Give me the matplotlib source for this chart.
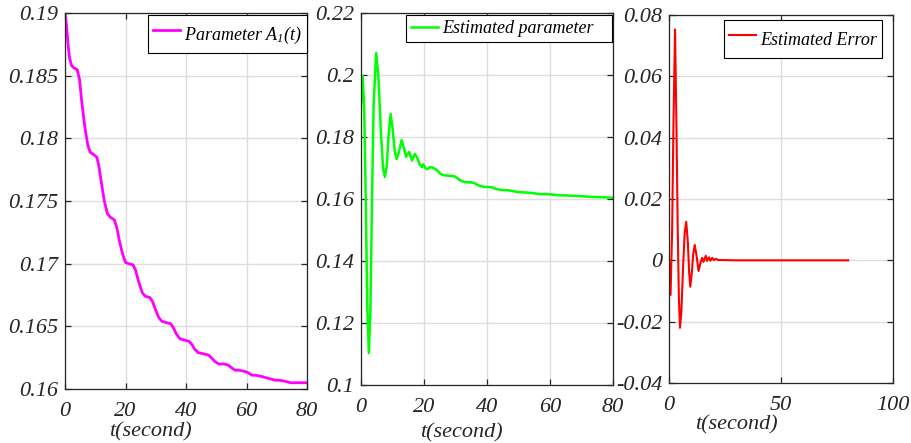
import matplotlib
matplotlib.use("Agg")
import matplotlib.pyplot as plt
from matplotlib.font_manager import FontProperties

# ---- data -------------------------------------------------------------
t_true = [0, 0.5, 1, 1.5, 2.2, 3, 4, 4.8, 5.5, 6.5, 7.5, 8.3, 9.5, 10.5, 11.2, 12, 13, 14,
          15, 16.3, 17.2, 18, 19, 20, 21, 22.5, 23.3, 24.3, 25.5, 26.5, 28, 28.9, 29.8, 31,
          32, 33.5, 35, 35.8, 36.8, 38, 39.5, 41, 41.8, 42.8, 44, 46, 47.5, 48.4, 49.5, 50.8,
          52.5, 54, 55, 56.2, 57.5, 59.5, 60.5, 61.8, 63, 65, 66.5, 68, 69.5, 71, 73, 74.5,
          76, 78, 80]
a_true = [0.1900, 0.1890, 0.1875, 0.1864, 0.1858, 0.1856, 0.1855, 0.1847, 0.1830, 0.1810,
          0.1795, 0.1789, 0.1787, 0.1785, 0.1778, 0.1765, 0.1750, 0.1740, 0.1737, 0.1735,
          0.1728, 0.1718, 0.1708, 0.1701, 0.1700, 0.1699, 0.1695, 0.1686, 0.1677, 0.1674,
          0.1673, 0.1670, 0.1664, 0.1657, 0.1654, 0.1653, 0.1652, 0.1649, 0.1644, 0.1640,
          0.1639, 0.1638, 0.1636, 0.1632, 0.1629, 0.1628, 0.1627, 0.1625, 0.1622, 0.1620,
          0.1620, 0.1619, 0.1617, 0.1615, 0.1615, 0.1614, 0.1613, 0.1611, 0.1611, 0.1610,
          0.1609, 0.1608, 0.1607, 0.1607, 0.1606, 0.1605, 0.1605, 0.1605, 0.1605]

t_est = [0, 0.5, 1.0, 1.5, 2.0, 2.5, 3.0, 3.5, 4.0, 4.8, 5.5, 6.3, 7.0, 7.6, 8.2, 8.8, 9.4,
         10.0, 10.7, 11.3, 12.0, 12.9, 13.6, 14.3, 15.3, 16.2, 17.1, 18.0, 18.6, 19.3, 19.8,
         20.4, 21.0, 22.0, 23.0, 24.0, 25.0, 26.0, 28.0, 29.5, 30.5, 31.5, 33.0, 35.0, 36.0,
         37.5, 39.0, 41.5, 43.0, 44.5, 47.0, 48.5, 50.0, 52.5, 54.5, 56.5, 59, 61, 63, 66,
         68, 70, 73, 76, 78, 80]
a_est = [0.190, 0.1997, 0.190, 0.160, 0.125, 0.1103, 0.125, 0.160, 0.190, 0.2071, 0.200,
         0.182, 0.170, 0.1671, 0.171, 0.181, 0.1874, 0.183, 0.1755, 0.1729, 0.175, 0.1790,
         0.1765, 0.1736, 0.1752, 0.1724, 0.1745, 0.1730, 0.1712, 0.1703, 0.1712, 0.1700,
         0.1696, 0.1703, 0.1700, 0.1694, 0.1683, 0.1677, 0.1675, 0.1674, 0.1668, 0.1660,
         0.1654, 0.1654, 0.1651, 0.1643, 0.1639, 0.1638, 0.1632, 0.1629, 0.1628, 0.1625,
         0.1622, 0.1621, 0.1619, 0.1616, 0.1616, 0.1614, 0.1612, 0.1611, 0.1610, 0.1609,
         0.1607, 0.1606, 0.1605, 0.1604]

t_err = [0, 0.7, 1.4, 2.0, 2.7, 3.3, 3.9, 4.4, 4.9, 5.5, 6.3, 7.0, 7.7, 8.4, 9.0, 9.5, 10.2,
         10.8, 11.5, 12.2, 13.2, 14.0, 14.8, 15.4, 16.4, 17.0, 17.8, 18.5, 19.3, 20.0, 21.0,
         22.0, 24, 30, 40, 50, 60, 70, 80]
e_err = [0.0, -0.0113, 0.010, 0.045, 0.0753, 0.045, 0.010, -0.012, -0.0220, -0.017, -0.002,
         0.009, 0.0126, 0.006, -0.004, -0.0086, -0.004, 0.002, 0.0050, 0.002, -0.0035,
         -0.001, 0.0008, -0.0005, 0.0015, -0.0002, 0.0010, -0.0001, 0.0008, 0.0001, 0.0005,
         0.0001, 0.0001, 0.0, 0.0, 0.0, 0.0, 0.0, 0.0]

yt1 = [0.16, 0.165, 0.17, 0.175, 0.18, 0.185, 0.19]
yt2 = [0.1, 0.12, 0.14, 0.16, 0.18, 0.2, 0.22]
yt3 = [-0.04, -0.02, 0, 0.02, 0.04, 0.06, 0.08]
xt12 = [0, 20, 40, 60, 80]
xt3 = [0, 50, 100]

# ---- style ------------------------------------------------------------
plt.rcParams.update({
    "font.family": "Liberation Serif",
    "font.style": "italic",
    "mathtext.fontset": "custom",
    "mathtext.rm": "Liberation Serif:italic",
    "mathtext.it": "Liberation Serif:italic",
    "axes.unicode_minus": False,
})
TXT = "#262626"
GRID = "#dedede"
TICK_FONT = FontProperties(family="Liberation Serif", style="italic", size=16)
LEG_FONT = FontProperties(family="Liberation Serif", style="italic", size=13)

fig = plt.figure(figsize=(9.12, 4.43), dpi=100)
W, H = 912, 443


def add_ax(l, r, top, bot):
    return fig.add_axes([l / W, (H - bot) / H, (r - l) / W, (bot - top) / H])


ax1 = add_ax(65, 307, 13, 389)
ax2 = add_ax(361, 613, 13, 385)
ax3 = add_ax(669, 893, 15, 383)


def fmt(v):
    return "0" if v == 0 else f"{v:g}"


def style(ax, xt, yt, xlim, ylim, label_xy):
    ax.set_xlim(*xlim)
    ax.set_ylim(*ylim)
    ax.set_xticks(xt)
    ax.set_yticks(yt)
    ax.set_xticklabels([fmt(v) for v in xt])
    ax.set_yticklabels([fmt(v) for v in yt])
    ax.grid(True, color=GRID, linewidth=1.0)
    ax.set_axisbelow(True)
    for s in ax.spines.values():
        s.set_color(TXT)
        s.set_linewidth(0.9)
    ax.tick_params(axis="both", direction="in", length=4, width=0.9, colors=TXT,
                   top=True, right=True)
    ax.tick_params(axis="y", pad=5)
    ax.tick_params(axis="x", pad=9)
    for lab in ax.get_xticklabels() + ax.get_yticklabels():
        lab.set_fontproperties(TICK_FONT)
    ax.set_xlabel("t(second)", fontproperties=TICK_FONT, color=TXT)
    ax.xaxis.set_label_coords(*label_xy)


style(ax1, xt12, yt1, (0, 80), (0.16, 0.19), (0.351, -0.088))
style(ax2, xt12, yt2, (0, 80), (0.1, 0.22), (0.397, -0.102))
style(ax3, xt3, yt3, (0, 100), (-0.04, 0.08), (0.299, -0.087))

ax1.plot(t_true, a_true, color="#ff00ff", linewidth=2.0, label=r"Parameter A$_{1}$(t)")
ax2.plot(t_est, a_est, color="#00ff00", linewidth=1.8, label="Estimated parameter   ")
ax3.plot(t_err, e_err, color="#ff0000", linewidth=1.5, label="Estimated Error")


def legend(ax, anchor, hh):
    lg = ax.legend(loc="upper right", bbox_to_anchor=anchor, frameon=True, prop=LEG_FONT,
                   fancybox=False, framealpha=1, edgecolor="#000000", handlelength=1.5,
                   handleheight=hh, handletextpad=0.22, borderpad=0.28, borderaxespad=0)
    lg.get_frame().set_linewidth(0.8)
    for t in lg.get_texts():
        t.set_color("#000000")


legend(ax1, (1.0, 0.995), 2.0)
legend(ax2, (0.996, 0.995), 0.7)
legend(ax3, (0.951, 0.986), 2.0)

fig.savefig("out.png", dpi=100)
